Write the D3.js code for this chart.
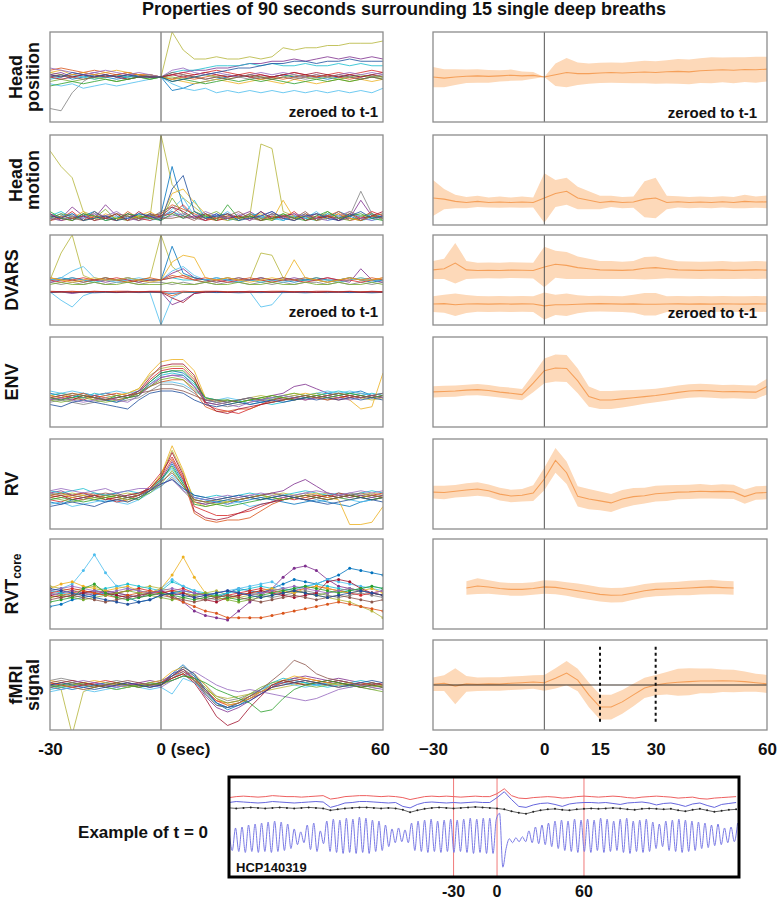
<!DOCTYPE html>
<html><head><meta charset="utf-8">
<script src="https://cdn.jsdelivr.net/npm/d3@7"></script>
<style>body{margin:0;background:#fff}svg{display:block}text{font-family:"Liberation Sans",Arial,Helvetica,sans-serif;font-weight:bold;fill:#111}</style>
</head><body><svg id="c" width="777" height="900"></svg>
<script>
// ---------------- DATA ----------------
const T = d3.range(-30, 61, 3); // seconds relative to deep breath
const palette = ['#808080','#b5b53a','#7E2F8E','#0072BD','#17becf','#4DBEEE','#d62728','#D95319','#EDB120','#77AC30','#A2142F','#9467bd','#2ca02c','#8c564b','#1f4e9c'];
const title = "Properties of 90 seconds surrounding 15 single deep breaths";
const rowLabels = [["Head","position"],["Head","motion"],["DVARS"],["ENV"],["RV"],["RVT","core"],["fMRI","signal"]];
const leftTicks = [-30,0,60], leftTickText = ["-30","0 (sec)","60"];
const rightTicks = [-30,0,15,30,60];

const headPosL = [
[-14,-15,-7,-2,1,0,1,-1,0,1,0,-1,1,0,-1,0,1,0,-1,0,0,1,0,-1,0,1,0,0,-1,0,1],
[2,1,0,1,-1,0,1,0,1,0,0,20,12,8,8,9,8,8,9,8,9,13,12,13,13,14,14,15,15,15,16],
[1,2,0,1,2,1,0,1,1,0,0,1,2,3,3,4,4,5,6,6,7,7,8,7,8,9,8,9,8,9,8],
[0,1,-1,0,1,0,-1,0,1,0,0,-6,-5,-3,-2,-1,0,1,0,-1,0,1,0,1,0,-1,0,1,0,1,0],
[-1,0,1,0,-1,0,1,0,0,1,0,2,3,3,4,5,5,5,6,5,6,5,5,6,5,5,6,5,6,5,5],
[-3,-4,-3,-5,-4,-3,-4,-3,-2,-1,0,-3,-5,-6,-5,-7,-6,-7,-6,-7,-6,-7,-6,-7,-6,-7,-6,-7,-6,-7,-5],
[1,0,1,2,1,0,1,2,1,1,0,1,2,1,2,3,2,1,2,1,0,1,2,1,0,1,2,1,2,3,2],
[3,4,3,2,3,2,1,2,1,0,0,-1,0,-1,0,1,0,1,0,-1,0,-1,0,1,0,1,0,-1,0,1,0],
[2,3,1,2,1,2,3,2,1,1,0,-1,-2,-3,-2,-1,-2,-3,-2,-1,-2,-3,-1,-2,-3,-2,-1,-2,-1,-2,-1],
[-2,-1,-2,-1,0,-1,-2,-1,0,-1,0,0,-1,0,1,0,-1,0,1,0,-1,0,1,0,-1,0,-1,0,1,0,0],
[0,-1,0,1,0,1,0,-1,0,0,0,1,0,1,2,1,0,1,0,1,0,1,2,1,2,1,0,1,0,1,2],
[4,3,2,1,2,3,2,1,2,1,0,3,4,2,1,2,1,0,1,2,1,2,1,0,1,0,1,2,1,2,1],
[-4,-3,-2,-3,-2,-1,-2,-1,0,-1,0,-2,-1,-2,-3,-2,-1,-2,-1,-2,-1,-2,-3,-2,-1,-2,-1,-2,-1,0,-1],
[0,1,0,-1,0,1,0,1,0,0,0,2,1,0,-1,0,-1,0,1,0,-1,0,-1,0,1,0,1,0,-1,0,-1],
[1,0,2,1,0,1,0,1,0,0,0,-2,-1,0,1,2,3,4,4,5,6,6,7,7,6,7,7,8,7,7,7]];
const headMotL = [
[3,2,4,3,5,2,3,4,2,3,6,8,4,3,2,4,3,2,5,3,4,3,2,4,3,5,2,4,15,5,3],
[33,26,21,6,4,3,5,2,4,3,40,18,12,8,4,3,5,3,4,36,34,6,4,3,5,4,3,6,4,3,4],
[5,3,8,4,3,9,4,2,3,5,4,6,3,4,2,5,3,4,6,3,5,2,4,3,5,4,2,3,11,4,3],
[3,5,2,4,6,3,2,5,3,4,5,26,8,4,3,5,2,4,3,6,2,4,3,5,2,3,6,4,2,5,3],
[4,6,3,5,2,4,3,2,5,4,3,6,4,11,3,4,2,3,5,4,3,2,4,3,2,5,4,3,2,3,5],
[2,4,5,3,6,2,4,3,5,2,3,7,12,4,5,3,6,2,4,3,5,2,4,3,6,2,3,5,4,2,3],
[2,3,6,2,4,3,2,5,3,2,4,5,9,4,2,3,5,3,4,2,4,3,6,2,4,3,5,2,3,6,4],
[4,3,2,5,3,4,2,6,3,4,5,9,7,5,3,2,4,3,5,2,3,4,2,5,3,4,6,3,2,4,5],
[2,4,3,6,2,5,3,2,4,6,3,14,16,10,5,3,2,4,3,5,2,11,3,4,2,3,5,3,2,4,3],
[3,5,4,2,3,7,2,4,3,5,2,12,5,3,4,6,3,2,4,3,2,5,3,4,2,6,3,2,4,5,2],
[5,2,3,4,2,3,5,2,6,3,4,8,6,3,5,2,3,4,2,6,3,4,5,2,3,4,2,5,3,4,6],
[3,2,4,3,5,4,6,3,2,4,3,4,5,3,6,4,3,5,2,4,6,3,5,4,3,2,4,6,3,2,4],
[6,3,2,5,4,2,3,5,4,3,2,5,3,6,4,2,9,3,4,2,3,5,3,2,4,6,3,4,5,3,2],
[2,4,3,2,6,3,5,4,2,5,3,3,4,2,5,3,4,6,3,2,5,4,3,6,2,4,3,5,2,4,3],
[4,3,5,2,3,4,2,3,5,4,2,16,22,6,3,4,5,2,3,4,6,3,2,4,5,3,2,4,6,3,4]];
const dvarsUpL = [
[-1,-2,-1,-2,-1,-2,-1,-1,-2,-1,-1,-2,-1,-2,-1,-2,-1,-1,-2,-1,-2,-1,-2,-1,-1,-2,-1,-2,-1,-2,-1],
[0,12,20,2,0,1,0,-1,0,1,20,6,2,1,0,-1,0,1,0,12,11,1,0,0,1,0,-1,0,1,0,0],
[-1,0,1,0,0,-1,0,1,0,0,0,3,5,1,0,-1,0,1,0,0,-1,0,1,0,0,1,0,-1,5,0,-1],
[0,1,0,-1,0,1,0,0,-1,0,0,15,3,1,0,1,0,-1,0,1,0,0,-1,0,1,0,0,1,0,-1,0],
[0,0,1,0,-1,0,0,1,0,0,0,1,0,0,-1,0,1,0,0,-1,0,1,0,0,0,-1,0,1,0,0,0],
[0,1,4,6,1,0,-1,0,1,0,0,4,6,2,0,1,0,-1,0,1,0,-1,0,1,0,0,-1,0,1,0,0],
[0,-1,0,1,0,0,1,0,-1,0,0,1,2,0,1,0,-1,0,0,1,0,1,0,-1,0,1,0,0,-1,0,1],
[1,0,0,-1,0,1,0,-1,0,1,0,2,1,0,-1,0,1,0,1,0,-1,0,0,1,0,-1,0,1,0,1,0],
[1,0,-1,0,1,0,0,1,0,-1,0,8,11,10,1,0,1,0,-1,0,1,0,9,1,0,-1,0,1,0,0,1],
[-2,-1,-2,-2,-1,-2,-2,-1,-2,-2,-2,-1,-2,-2,-1,-2,-2,-1,-2,-2,-1,-2,-2,-1,-2,-2,-1,-2,-2,-1,-2]];
const dvarsLoL = [
[-5.3,-9,-12,-7,-5.3,-5.5,-5.3,-5.1,-5.3,-5.5,-20,-8,-5.3,-5.5,-5.3,-5.2,-5.3,-5.5,-5.3,-12,-11,-5.3,-5.2,-5.3,-5.5,-5.3,-5.1,-5.3,-5.3,-5.5,-5.3],
[-5.5,-5.3,-6,-5.3,-5.2,-5.3,-5.5,-5.3,-5.2,-5.3,-5.3,-11,-9,-6,-5.3,-5.5,-5.3,-5.2,-5.3,-5.5,-5.3,-5.2,-5.3,-5.5,-5.3,-5.2,-5.3,-5.5,-5.3,-5.3,-5.2],
[-5,-5.2,-5,-5.3,-5,-5.2,-5,-5,-5.3,-5,-5,-5.3,-5,-5.2,-5,-5,-5.2,-5.3,-5,-5.2,-5,-5,-5.2,-5.3,-5,-5,-5.2,-5,-5.3,-5,-5.2],
[-5.6,-5.4,-5.6,-5.5,-5.7,-5.5,-5.6,-5.4,-5.6,-5.5,-5.6,-6,-5.5,-5.6,-5.4,-5.6,-5.5,-5.7,-5.5,-5.6,-5.4,-5.6,-5.5,-5.7,-5.5,-5.6,-5.4,-5.6,-5.5,-5.7,-5.5],
[-5.2,-5.4,-5.2,-5.3,-5.1,-5.3,-5.2,-5.4,-5.2,-5.3,-5.2,-7,-5.4,-5.2,-5.3,-5.1,-5.3,-5.2,-5.4,-5.2,-5.3,-5.1,-5.3,-5.2,-5.4,-5.2,-5.3,-5.1,-5.3,-5.2,-5.4],
[-5.4,-5.2,-5.5,-5.3,-5.4,-5.2,-5.5,-5.3,-5.4,-5.2,-5.4,-8,-10,-6,-5.4,-5.2,-5.5,-5.3,-5.4,-5.2,-5.5,-5.3,-5.4,-5.2,-5.5,-5.3,-5.4,-5.2,-5.5,-5.3,-5.4]];
const envL = [
[-9,-8,-9,-10,-9,-8,-9,-8,-7,-4,-1,-1,-2,-5,-9,-10,-11,-10,-9,-8,-7,-8,-7,-6,-7,-8,-7,-6,-5,-6,-7],
[-6,-5,-6,-7,-6,-5,-6,-5,-3,3,6,7,7,2,-7,-8,-9,-8,-7,-6,-7,-6,-5,-6,-7,-6,-5,-6,-7,-8,-7],
[-7,-8,-6,-7,-6,-5,-6,-7,-6,-2,2,3,3,-2,-9,-10,-9,-8,-7,-8,-6,-5,-2,-1,-3,-5,-6,-7,-6,-7,-6],
[-5,-6,-7,-5,-6,-8,-9,-7,-4,0,4,5,4,0,-8,-9,-8,-9,-8,-9,-8,-7,-6,-7,-6,-5,-6,-5,-4,-6,-5],
[-6,-5,-6,-7,-5,-6,-7,-6,-5,-1,3,4,3,-1,-7,-8,-9,-8,-10,-9,-10,-9,-8,-7,-6,-5,-4,-5,-6,-5,-6],
[-4,-5,-4,-5,-6,-5,-4,-5,-4,-2,0,0,-1,-4,-7,-8,-7,-8,-7,-8,-7,-6,-7,-6,-5,-4,-5,-4,-5,-6,-5],
[-7,-6,-7,-8,-6,-7,-8,-7,-5,1,5,6,6,1,-10,-12,-13,-14,-12,-10,-8,-7,-8,-7,-6,-7,-8,-7,-6,-7,-6],
[-6,-7,-6,-5,-7,-6,-5,-6,-5,-2,0,1,1,-4,-11,-13,-13,-12,-12,-10,-9,-8,-7,-6,-7,-8,-7,-6,-7,-6,-7],
[-6,-7,-5,-6,-8,-7,-6,-5,-3,4,9,10,10,5,-7,-9,-8,-9,-8,-7,-6,-7,-6,-5,-6,-7,-6,-8,-12,-11,4],
[-8,-9,-8,-7,-8,-9,-8,-7,-5,-2,1,2,1,-3,-8,-9,-10,-9,-8,-7,-8,-6,-5,-6,-5,-6,-5,-6,-7,-6,-7],
[-8,-7,-8,-6,-7,-8,-7,-6,-4,2,7,8,8,3,-9,-13,-14,-12,-11,-10,-9,-8,-7,-8,-7,-6,-7,-6,-7,-6,-7],
[-8,-7,-8,-9,-8,-7,-8,-9,-6,-1,2,3,2,-2,-8,-9,-10,-11,-9,-8,-7,-6,-7,-8,-7,-6,-7,-8,-7,-6,-7],
[-7,-8,-7,-6,-7,-8,-6,-7,-6,0,4,5,5,0,-7,-8,-8,-9,-8,-7,-6,-7,-8,-7,-6,-7,-6,-5,-6,-7,-6],
[-7,-6,-5,-6,-7,-8,-7,-6,-5,-4,-3,-3,-4,-6,-8,-8,-9,-8,-7,-8,-9,-8,-7,-6,-7,-6,-5,-6,-7,-6,-5],
[-10,-11,-9,-8,-9,-10,-11,-12,-8,-5,-4,-4,-5,-8,-10,-11,-10,-9,-10,-9,-8,-9,-8,-7,-8,-7,-8,-7,-8,-7,-8]];
const rvL = [
[-4,-5,-6,-5,-4,-5,-6,-5,-4,-3,-1,3,-3,-8,-9,-8,-7,-6,-5,-6,-7,-6,-5,-4,-5,-6,-5,-4,-5,-6,-5],
[-6,-5,-4,-5,-6,-7,-5,-4,-5,-2,4,15,5,-7,-8,-7,-8,-7,-6,-7,-5,-4,-5,-6,-5,-4,-5,-6,-5,-4,-5],
[-4,-3,-5,-4,-6,-5,-4,-6,-5,-2,2,10,2,-8,-9,-8,-9,-7,-6,-5,-4,-3,0,2,-1,-4,-5,-6,-5,-6,-5],
[-8,-9,-7,-6,-7,-8,-7,-6,-5,-3,1,9,1,-6,-7,-8,-7,-8,-7,-6,-7,-8,-9,-8,-7,-8,-9,-10,-8,-7,-6],
[-3,-4,-3,-2,-4,-5,-4,-3,-4,-2,2,7,0,-5,-6,-5,-6,-5,-4,-5,-6,-5,-4,-3,-4,-5,-4,-5,-4,-3,-4],
[-9,-8,-10,-9,-8,-7,-8,-9,-7,-4,-1,4,-2,-6,-7,-8,-9,-8,-10,-9,-8,-7,-6,-7,-8,-7,-6,-7,-8,-7,-6],
[-7,-8,-6,-7,-5,-6,-8,-7,-5,-1,5,12,3,-10,-12,-14,-14,-13,-12,-10,-8,-6,-7,-6,-5,-6,-4,-5,-6,-5,-4],
[-5,-6,-5,-4,-5,-6,-7,-6,-5,-2,3,11,2,-13,-16,-17,-16,-16,-15,-12,-9,-7,-6,-5,-6,-7,-6,-5,-6,-5,-6],
[-5,-4,-6,-5,-7,-6,-5,-8,-6,-3,4,17,6,-8,-10,-9,-8,-7,-6,-5,-6,-7,-6,-5,-4,-6,-7,-18,-18,-17,-10],
[-6,-7,-8,-7,-6,-5,-6,-7,-6,-4,0,6,-1,-7,-8,-9,-8,-7,-6,-5,-6,-5,-6,-7,-6,-5,-6,-7,-6,-5,-6],
[-6,-5,-7,-6,-5,-7,-6,-5,-4,-2,3,14,4,-12,-15,-16,-15,-13,-11,-9,-8,-7,-6,-7,-6,-5,-6,-5,-6,-7,-6],
[-3,-2,-3,-4,-3,-2,-4,-3,-2,-2,0,2,-3,-6,-7,-6,-5,-6,-5,-4,-5,-6,-5,-4,-3,-4,-5,-4,-3,-4,-3],
[-7,-6,-7,-8,-7,-6,-5,-6,-7,-3,2,8,0,-9,-10,-9,-10,-9,-8,-7,-6,-7,-6,-5,-6,-7,-6,-5,-6,-7,-6],
[-5,-4,-5,-6,-5,-4,-5,-6,-5,-3,1,5,-1,-7,-8,-7,-6,-7,-6,-5,-4,-5,-6,-5,-6,-7,-6,-5,-4,-5,-6],
[-10,-9,-8,-9,-10,-8,-7,-8,-6,-3,0,2,-2,-5,-6,-7,-6,-5,-6,-7,-6,-5,-6,-7,-8,-9,-8,-7,-6,-7,-8]];
const rvtL = [
[-4,-5,-6,-5,-4,-3,-4,-5,-6,-5,-4,-3,-4,-5,-6,-7,-6,-5,-4,-5,-6,-5,-4,-3,-4,-5,-6,-5,-4,-5,-6],
[-1,-2,-3,-2,-1,-3,-4,-3,-2,-1,-2,-3,-4,-5,-4,-3,-5,-6,-5,-4,-3,-2,-3,-4,-5,-6,-7,-8,-10,-12,-15],
[-5,-4,-3,-4,-5,-3,-4,-5,-6,-4,-3,-5,-8,-12,-14,-15,-16,-12,-8,-5,-2,3,7,8,6,2,-1,-2,-3,-4,-5],
[-10,-9,-7,-6,-5,-4,-5,-6,-8,-7,-5,-4,-3,-4,-5,-6,-4,-2,-3,-4,-2,0,2,1,0,2,4,7,6,5,4],
[-3,-4,-5,-4,-3,-2,-1,0,-1,-2,-3,1,-1,-3,-4,-5,-4,-3,-2,-1,-2,-3,-2,-1,0,-1,-2,-3,-2,-1,-2],
[-3,-2,0,6,13,5,-1,-2,-3,-4,-2,2,-1,-3,-5,-4,-3,-2,-1,0,1,-2,-3,-1,0,2,1,0,-1,-2,-3],
[-4,-3,-2,-3,-4,-5,-4,-3,-2,-3,-4,-3,-2,-4,-5,-6,-5,-4,-3,-2,-3,-4,-3,-2,-1,-2,-3,-4,-5,-4,-3],
[-6,-5,-4,-3,-4,-5,-6,-5,-4,-3,-4,-6,-8,-10,-12,-13,-15,-15,-15,-15,-14,-13,-12,-11,-10,-9,-8,-9,-10,-11,-12],
[-2,0,1,-1,-2,-3,-2,-1,-3,-4,-2,4,12,3,-4,-6,-7,-5,-4,-3,-2,-3,-4,-2,-1,-2,-3,-4,-3,-2,-4],
[-6,-5,-6,-7,-6,-5,-4,-3,-4,-5,-6,-7,-6,-5,-4,-6,-7,-8,-7,-6,-5,-4,-3,-4,-5,-4,-3,-2,-3,-4,-5],
[-5,-6,-5,-4,-3,-4,-5,-6,-5,-4,-3,-5,-4,-6,-7,-8,-6,-5,-4,-3,-4,-5,-6,-5,-4,1,2,1,-2,-4,-5],
[-3,-2,-1,-2,-3,-4,-3,-2,-3,-4,-3,-2,-3,-4,-5,-4,-3,-4,-5,-4,-3,-2,-1,-2,-3,-4,-3,-2,-3,-4,-3],
[-8,-7,-6,-2,0,-4,-6,-7,-6,-5,-4,-5,-6,-7,-6,-5,-6,-7,-6,-5,-4,-3,-2,-1,-2,-3,-4,-3,-2,-1,-2],
[-7,-6,-5,-6,-7,-8,-7,-6,-5,-4,-5,-6,-7,-8,-7,-6,-5,-6,-7,-8,-7,-6,-5,-6,-7,-6,-5,-6,-7,-8,-7],
[-2,-3,-4,-5,-6,-7,-8,-9,-8,-7,-5,-4,-5,-6,-5,-4,-3,-4,-5,-6,-5,-4,-3,-4,-5,-6,-5,-4,-3,-4,-5]];
const fmriL = [
[2,3,2,1,0,1,2,1,0,1,2,4,7,4,0,-5,-7,-6,-4,-2,0,1,3,2,1,0,1,0,-1,-2,-1],
[0,-2,-22,-3,-1,0,1,0,-1,0,1,3,5,2,-2,-5,-6,-5,-4,-3,-2,-1,0,1,2,1,0,-1,0,1,0],
[-1,-2,-1,0,1,0,-1,0,1,2,1,5,7,2,-5,-10,-12,-10,-7,-4,-1,2,3,4,3,2,3,2,1,0,-1],
[0,-1,-2,-1,0,1,0,-1,0,1,0,5,9,4,-3,-8,-11,-9,-6,-3,0,1,2,1,0,1,2,1,0,-1,0],
[-2,-1,0,1,0,-1,-2,-1,0,-1,0,3,6,2,-4,-9,-10,-8,-5,-2,1,3,2,1,0,-1,0,1,2,1,0],
[-3,-2,-1,-2,-3,-2,-1,0,-1,-2,-1,-4,3,1,-3,-8,-10,-8,-5,-2,0,1,0,-1,0,1,0,-1,0,1,0],
[1,0,-1,0,1,2,1,0,1,0,1,4,6,3,-2,-7,-9,-8,-6,-4,-1,1,2,3,2,1,2,1,0,1,0],
[1,0,-1,-2,-1,0,1,0,-1,0,1,3,5,2,-3,-7,-8,-7,-5,-3,-1,0,1,2,1,0,-1,0,1,0,-1],
[2,1,0,1,2,1,0,-1,0,1,2,6,8,5,0,-6,-9,-8,-6,-3,0,2,4,3,2,1,0,1,0,-1,0],
[0,-1,0,1,0,-1,-2,-1,0,1,0,2,4,3,-1,-6,-8,-7,-4,-1,1,2,1,0,-1,0,1,0,-1,-2,-3],
[0,1,2,1,0,-1,0,1,0,-1,0,3,5,1,-6,-14,-18,-16,-10,-5,0,2,1,0,1,2,1,0,-1,0,1],
[-1,0,1,2,1,0,-1,0,1,0,-1,2,4,6,3,0,-2,-3,-2,-3,-4,-5,-6,-7,-6,-4,-2,-1,0,-1,-2],
[-1,0,1,0,-1,0,1,0,-1,0,1,2,4,3,1,-2,-4,-6,-8,-12,-11,-6,-2,0,1,2,1,0,-1,0,-1],
[1,2,1,0,-1,0,1,2,1,0,0,4,7,3,-4,-9,-10,-8,-5,-2,2,6,11,9,5,3,2,1,0,1,0],
[0,1,0,-1,-2,-1,0,1,0,-1,0,4,8,5,-2,-8,-10,-9,-7,-4,-1,0,1,2,1,0,-1,0,1,2,1]];

// right column: group mean and half-width of shaded band
const headPosM = [0,-0.5,0,0.3,0.5,0.3,0.5,0.8,0.5,0.7,0,1,2,1.5,1.5,1.8,2,1.8,2,2.2,2,2.3,2.5,2.3,2.8,3,3.2,3,3.3,3.2,3.5];
const headPosH = [4.5,4,3.5,3,3,2.8,2.5,2.5,2,1.5,0,5,6.5,5,4.5,4.5,4.5,4.5,4.8,5,5,5.2,5.5,5.5,5.5,5.8,5.5,5.8,5.5,5.8,5.5];
const headMotM = [12,11.5,10.5,10,10.5,10,10.2,10,10.2,10,12,14,15,12,11,10,10.5,10,10.2,11.5,12,10,10.3,10,10.2,10,10.3,10,10.5,10.2,10.3];
const headMotH = [8,4.5,3,2.5,2.5,2.2,2.5,2.2,2.5,2.2,11,6,6,5,4,3,2.5,2.5,2.5,8,9,3,2.5,2.5,2.5,2.5,2.5,2.5,3,2.5,2.8];
const dvUpM = [4.5,5,7.5,4.5,4.2,4.3,4.2,4.4,4.3,4.2,5.8,7,6.5,5.5,5,4.5,4.4,4.3,4.5,5.2,5.5,5,4.5,4.4,4.3,4.4,4.5,4.3,4.4,4.5,4.4];
const dvUpH = [4,4.5,9,4,3.5,3.5,3.5,3.5,3.5,3.5,9,6,6,5,4.5,4,4,3.8,4,5,5,4.2,3.8,3.8,3.8,3.8,4,3.8,3.8,4,3.8];
const dvLoM = [-10.7,-10.5,-11,-10.7,-10.6,-10.7,-10.6,-10.7,-10.6,-10.7,-11.5,-11,-11,-10.8,-10.6,-10.5,-10.6,-10.7,-10.6,-10.8,-10.8,-10.7,-10.6,-10.7,-10.6,-10.7,-10.6,-10.7,-10.7,-10.6,-10.7];
const dvLoH = [3.5,4,5,4,3.5,3.5,3.5,3.5,3.5,3.5,6,4.5,5,4,3.5,3.5,3.5,3.5,4,5,5,3.5,3.5,3.5,3.5,3.5,3.5,3.5,3.5,3.5,3.5];
const envM = [-4.4,-4.2,-4,-3.6,-3.4,-3.8,-4.5,-5,-5.6,-0.5,5,6.2,6,0.5,-6.5,-8,-8,-7.5,-7,-6.5,-6,-5.3,-4.6,-4,-3.8,-4,-4.3,-4.2,-4.4,-4.5,-2];
const envH = [2.5,2.5,2.5,2.4,2.5,2.5,2.4,2.5,2.5,4,5.5,6,6,5.5,4.5,4,4,3.8,3.5,3.2,3,3,3,3,3,3,3,3,3,3,3.5];
const rvM = [-3.6,-3.8,-3.2,-2.7,-2.2,-3,-4.5,-5.3,-5,-4,2.2,10.5,5,-5.5,-6.7,-7.5,-8.4,-6.7,-5.6,-5.2,-4.3,-4,-3.6,-3.5,-3.2,-3.4,-3.3,-3.5,-5.6,-4,-3.8];
const rvH = [2.8,3,2.8,3,3,2.8,2.8,2.8,2.8,3.5,5,5.5,5,4.5,4.5,4.2,4,4,3.8,3.5,3.5,3.5,3.2,3.2,3.2,3,3.2,3.2,3.2,3,3];
const rvtM = [null,null,null,-1.8,-0.9,-1.3,-2,-2.4,-2.4,-2,-1.3,-1.5,-2.2,-3,-3.8,-4.6,-5,-4.9,-4,-3,-2.4,-2.2,-2,-1.8,-1.5,-1.3,-1.6,-1.8,null,null,null];
const rvtH = [null,null,null,3,3.5,3,2.8,2.8,2.8,2.8,3,3,3,3.2,3.2,3.2,3.2,3.2,3,3,3,3,3,3.2,3.2,3.2,3,3,null,null,null];
const fmriM = [0.3,0.8,-0.5,0.5,0.3,0.5,0.4,0.8,1,1.3,1,3,5.3,2.2,-4.4,-9.8,-9.8,-7.5,-4.4,-1.3,0,0.8,1.2,1.5,1.8,1.8,1.9,1.8,1.5,1,0.5];
const fmriH = [3,3.5,8,3.5,3,3,3,3,3,3,3.5,4.5,5.4,5,5.5,5.5,5.5,5.3,5,4.5,4.5,5,6,6,5.5,5.5,5,5,4.5,4,4];
const fmriMarks = [15, 30];

// example recording (HCP140319)
const exT = d3.range(-185, 166, 5);
const exRed = [30,31,31.5,31,30.5,31,32,31.5,31,31,30.5,31,31.5,32,28.5,29.5,31,31.5,32,32,31.5,31,31.5,31,30,28,29.5,31,31.5,31,31.5,31,30.5,31,31.5,31,31,34,39,32,29.5,29,30,30.5,31,30.5,29.5,30,31,31.5,31,30.5,31,31.5,31,30,29.5,30.5,31,31.5,31,30.5,29.5,30,30.5,29,28.5,29.5,30,30.5,31];
const exBlue = [25,26,25.5,25,24.5,25,26,25.5,25,24.5,25,25.5,26,25.5,20,22,24.5,25,26,26,25.5,25,24.5,25,21,19.5,23,25,25.5,25,24.5,25,24.5,25,25.5,25,25,30,36,28,21,20,22.5,24,24.5,23,21,23.5,24.5,25,25,24.5,25,24,23,24.5,25,25.5,24.5,22.5,24,24.5,23,21,23.5,24.5,22,20,23,24,25];
const exBlack = [19.5,19,19.5,20,19.5,19,19.5,20,19.5,19,19.5,20,19.5,19,17,18,19,19.5,20,20,19.5,19,19.5,19,17.5,15,17,18.5,19.5,20,19.5,19,19.5,20,20.5,20,19.5,19,18,16,14.5,13.5,15.5,17,18,18.5,17.5,17,18,18.5,19,18.5,19,19.5,19,18,17.5,18.5,19,18.5,18,18.5,17,16,17.5,18.5,17,15.5,16.5,17.5,18];
const exBreath = [-3,-24,-1,-25,0,-26,2,-25,3,-26,4,-25,5,-26,6,-25,5,-24,3,-22,-2,-18,-5,-16,2,-23,4,-25,-4,-17,6,-25,8,-26,7,-27,9,-26,8,-27,10,-26,9,-27,7,-25,6,-24,2,-20,-2,-16,-1,-15,-3,-16,4,-24,6,-25,7,-26,8,-25,6,-26,7,-25,8,-26,7,-25,8,-26,9,-27,8,-26,9,-27,9,-27,8,14,-41,-22,-12,-16,-11,-15,-10,-15,-4,-16,0,-17,2,-18,4,-20,6,-22,7,-24,6,-25,8,-26,7,-25,8,-26,7,-24,9,-26,8,-25,6,-24,8,-26,9,-27,6,-25,7,-26,8,-25,5,-22,3,-20,6,-24,7,-25,8,-26,7,-25,6,-24,5,-22,4,-21,2,-19,3,-18,-1,-16,0,-15,4];
const exBT = exBreath.map((_, k) => -185 + 2.25 * k);
const exTicks = [-30, 0, 60];

// ---------------- DRAW ----------------
const svg = d3.select('#c');
const xL = d3.scaleLinear().domain([-30, 60]).range([50, 383]);
const xR = d3.scaleLinear().domain([-30, 60]).range([433, 767]);
const tops = [32, 135, 235, 337, 439, 539, 640];
const PH = 90;
const BAND = '#fdd9b9', MEAN = '#f5a05a';

svg.append('text').attr('x', 404).attr('y', 15).attr('text-anchor', 'middle').attr('font-size', 18).text(title);

let clipN = 0;
function makePanel(xs, top, dom) {
  const y = d3.scaleLinear().domain(dom).range([top + PH, top]);
  const [x0, x1] = xs.range();
  const id = 'cp' + (clipN++);
  svg.append('clipPath').attr('id', id).append('rect').attr('x', x0).attr('y', top).attr('width', x1 - x0).attr('height', PH);
  const g = svg.append('g').attr('clip-path', `url(#${id})`);
  return { y, g, x0, x1, xs, top };
}
function finishPanel(p) {
  svg.append('line').attr('x1', p.xs(0)).attr('x2', p.xs(0)).attr('y1', p.top).attr('y2', p.top + PH).attr('stroke', '#555').attr('stroke-width', 1);
  svg.append('rect').attr('x', p.x0).attr('y', p.top).attr('width', p.x1 - p.x0).attr('height', PH)
    .attr('fill', 'none').attr('stroke', '#8c8c8c').attr('stroke-width', 1.3);
}
function drawSeries(p, series, colorIdx, dots) {
  const line = d3.line().defined(d => d[1] != null).x(d => p.xs(d[0])).y(d => p.y(d[1]));
  series.forEach((s, k) => {
    const c = palette[colorIdx ? colorIdx[k] : k];
    const pts = s.map((v, i) => [T[i], v]);
    p.g.append('path').attr('d', line(pts)).attr('fill', 'none').attr('stroke', c).attr('stroke-width', 0.9).attr('stroke-opacity', 0.9);
    if (dots) p.g.append('g').selectAll('circle').data(pts).join('circle')
      .attr('cx', d => p.xs(d[0])).attr('cy', d => p.y(d[1])).attr('r', 1.5).attr('fill', c);
  });
}
function drawBand(p, m, h) {
  const pts = T.map((t, i) => [t, m[i], h[i]]);
  const area = d3.area().defined(d => d[1] != null).x(d => xR(d[0])).y0(d => p.y(d[1] - d[2])).y1(d => p.y(d[1] + d[2]));
  p.g.append('path').attr('d', area(pts)).attr('fill', BAND);
  const line = d3.line().defined(d => d[1] != null).x(d => xR(d[0])).y(d => p.y(d[1]));
  p.g.append('path').attr('d', line(pts)).attr('fill', 'none').attr('stroke', MEAN).attr('stroke-width', 1.1);
}
function zeroedLabel(xRight, top, dy) {
  svg.append('text').attr('x', xRight).attr('y', top + dy).attr('text-anchor', 'end').attr('font-size', 15).text('zeroed to t-1');
}

const rows = [
  { L: [[headPosL]], R: [[headPosM, headPosH]], dom: [-20, 20], zero: 85 },
  { L: [[headMotL]], R: [[headMotM, headMotH]], dom: [0, 40] },
  { L: [[dvarsUpL], [dvarsLoL, [5, 2, 6, 3, 7, 10]]], R: [[dvUpM, dvUpH], [dvLoM, dvLoH]], dom: [-20, 20], zero: 82 },
  { L: [[envL]], R: [[envM, envH]], dom: [-20, 20] },
  { L: [[rvL]], R: [[rvM, rvH]], dom: [-20, 20] },
  { L: [[rvtL]], R: [[rvtM, rvtH]], dom: [-20, 20], dots: true },
  { L: [[fmriL]], R: [[fmriM, fmriH]], dom: [-20, 20], fmri: true }
];

rows.forEach((r, i) => {
  const top = tops[i];
  const pl = makePanel(xL, top, r.dom);
  r.L.forEach(([series, cidx]) => drawSeries(pl, series, cidx, r.dots));
  finishPanel(pl);
  const pr = makePanel(xR, top, r.dom);
  r.R.forEach(([m, h]) => drawBand(pr, m, h));
  if (r.fmri) {
    pr.g.append('line').attr('x1', pr.x0).attr('x2', pr.x1).attr('y1', pr.y(0)).attr('y2', pr.y(0)).attr('stroke', '#3a3028').attr('stroke-width', 1.2);
    fmriMarks.forEach(t => pr.g.append('line').attr('x1', xR(t)).attr('x2', xR(t)).attr('y1', pr.y(17)).attr('y2', pr.y(-17.5))
      .attr('stroke', '#111').attr('stroke-width', 2).attr('stroke-dasharray', '3,3'));
  }
  finishPanel(pr);
  if (r.zero) { zeroedLabel(378, top, r.zero); zeroedLabel(757, top, r.zero + 1); }

  // row label (rotated)
  const lab = rowLabels[i], cy = top + PH / 2;
  if (lab[1] === 'core') {
    const t = svg.append('text').attr('transform', `translate(18,${cy}) rotate(-90)`).attr('text-anchor', 'middle').attr('font-size', 18);
    t.append('tspan').text(lab[0]);
    t.append('tspan').attr('font-size', 12).attr('dy', 3).text(lab[1]);
  } else if (lab.length === 1) {
    svg.append('text').attr('transform', `translate(18,${cy}) rotate(-90)`).attr('text-anchor', 'middle').attr('font-size', 18).text(lab[0]);
  } else {
    lab.forEach((s, j) => svg.append('text').attr('transform', `translate(${22 + j * 17},${cy}) rotate(-90)`)
      .attr('text-anchor', 'middle').attr('font-size', 18).text(s));
  }
});

// bottom time axes
const axY = tops[6] + PH;
const axL = svg.append('g').attr('transform', `translate(0,${axY})`)
  .call(d3.axisBottom(xL).tickValues(leftTicks).tickSize(0).tickPadding(13).tickFormat((d, i) => leftTickText[i]));
const axR = svg.append('g').attr('transform', `translate(0,${axY})`)
  .call(d3.axisBottom(xR).tickValues(rightTicks).tickSize(0).tickPadding(13).tickFormat(d3.format('d')));
[axL, axR].forEach(a => {
  a.select('.domain').remove();
  a.selectAll('text').attr('font-size', 17).attr('fill', '#111').attr('font-family', '"Liberation Sans",Arial,sans-serif').attr('font-weight', 'bold');
});
axL.selectAll('.tick text').filter(d => d === 0).attr('text-anchor', 'start').attr('x', -5);
axL.selectAll('.tick text').filter(d => d === 60).attr('dx', -3);

// example panel
const exX = d3.scaleLinear().domain([-185, 167]).range([229, 739]);
const exY = d3.scaleLinear().domain([-50, 50]).range([876, 778]);
svg.append('clipPath').attr('id', 'exclip').append('rect').attr('x', 229).attr('y', 777).attr('width', 510).attr('height', 100);
const eg = svg.append('g').attr('clip-path', 'url(#exclip)');
eg.append('rect').attr('x', 229).attr('y', 777).attr('width', 510).attr('height', 100).attr('fill', '#fff');
exTicks.forEach(t => eg.append('line').attr('x1', exX(t)).attr('x2', exX(t)).attr('y1', 777).attr('y2', 877).attr('stroke', '#f07a7a').attr('stroke-width', 1));
const exLine = d3.line().x(d => exX(d[0])).y(d => exY(d[1]));
eg.append('path').attr('d', exLine(exT.map((t, i) => [t, exRed[i]]))).attr('fill', 'none').attr('stroke', '#ee6060').attr('stroke-width', 1);
eg.append('path').attr('d', exLine(exT.map((t, i) => [t, exBlue[i]]))).attr('fill', 'none').attr('stroke', '#6666dd').attr('stroke-width', 1);
eg.append('path').attr('d', exLine(exT.map((t, i) => [t, exBlack[i]]))).attr('fill', 'none').attr('stroke', '#333').attr('stroke-width', 0.8);
eg.selectAll('circle.bk').data(exT.map((t, i) => [t, exBlack[i]])).join('circle').attr('class', 'bk')
  .attr('cx', d => exX(d[0])).attr('cy', d => exY(d[1])).attr('r', 1).attr('fill', '#222');
const brLine = d3.line().x(d => exX(d[0])).y(d => exY(d[1])).curve(d3.curveMonotoneX);
eg.append('path').attr('d', brLine(exBT.map((t, i) => [t, exBreath[i]]))).attr('fill', 'none').attr('stroke', '#7b7be6').attr('stroke-width', 1);
svg.append('rect').attr('x', 229).attr('y', 777).attr('width', 510).attr('height', 100).attr('fill', 'none').attr('stroke', '#000').attr('stroke-width', 3);
svg.append('text').attr('x', 236).attr('y', 872).attr('font-size', 13).text('HCP140319');
svg.append('text').attr('x', 208).attr('y', 838).attr('text-anchor', 'end').attr('font-size', 17).text('Example of t = 0');
exTicks.forEach(t => svg.append('text').attr('x', exX(t)).attr('y', 897).attr('text-anchor', 'middle').attr('font-size', 16).text(t));
</script></body></html>
